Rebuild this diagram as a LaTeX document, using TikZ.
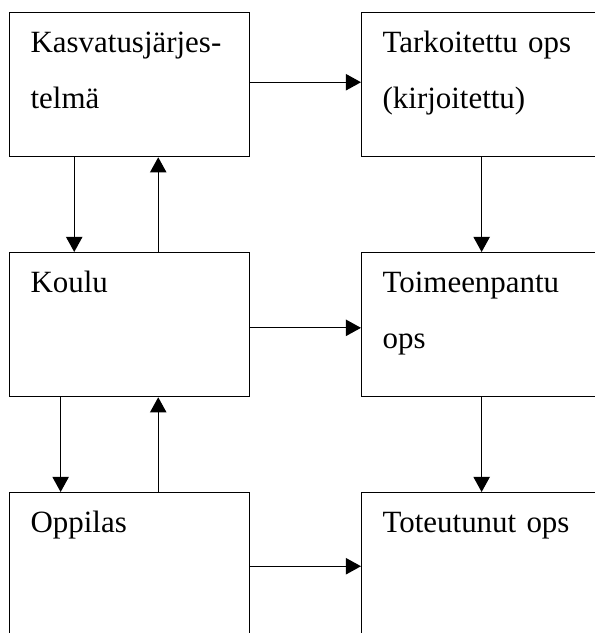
\documentclass[tikz,border=0pt]{standalone}
\usepackage{fontspec}
\setmainfont{Liberation Serif}
\usetikzlibrary{arrows.meta,positioning}
\tikzset{
  opsbox/.style={draw=black, line width=0.9pt, rectangle, anchor=north west, align=left,
    inner xsep=0.525cm, inner ysep=0pt, text width=4.95cm, text height=1cm, text depth=2.6cm,
    font=\fontsize{22}{39.8}\selectfont},
  arrow/.style={-{Triangle[length=3.8mm,width=4.1mm]}, line width=0.9pt}
}
\begin{document}
\begin{tikzpicture}
\useasboundingbox (0,0) rectangle (14.875,-15.825);
\clip (0,0) rectangle (14.875,-15.825);
\node[opsbox] (kas) at (0.225,-0.3) {Kasvatusjärjes-\\telmä};
\node[opsbox] (tark) at (9.025,-0.3) {Tarkoitettu ops\\(kirjoitettu)};
\node[opsbox] (koulu) at (0.225,-6.3) {Koulu};
\node[opsbox] (toim) at (9.025,-6.3) {Toimeenpantu\\ops};
\node[opsbox] (opp) at (0.225,-12.3) {Oppilas};
\node[opsbox] (tot) at (9.025,-12.3) {Toteutunut ops};
\draw[arrow] ([yshift=0.06cm]kas.east) -- ([yshift=0.06cm]tark.west);
\draw[arrow] ([yshift=-0.08cm]koulu.east) -- ([yshift=-0.08cm]toim.west);
\draw[arrow] ([yshift=-0.04cm]opp.east) -- ([yshift=-0.04cm]tot.west);
\draw[arrow] ([xshift=-1.385cm]kas.south) -- ([xshift=-1.385cm]koulu.north);
\draw[arrow] ([xshift=0.715cm]koulu.north) -- ([xshift=0.715cm]kas.south);
\draw[arrow] ([xshift=-1.725cm]koulu.south) -- ([xshift=-1.725cm]opp.north);
\draw[arrow] ([xshift=0.715cm]opp.north) -- ([xshift=0.715cm]koulu.south);
\draw[arrow] (tark) -- (toim);
\draw[arrow] (toim) -- (tot);
\end{tikzpicture}
\end{document}
